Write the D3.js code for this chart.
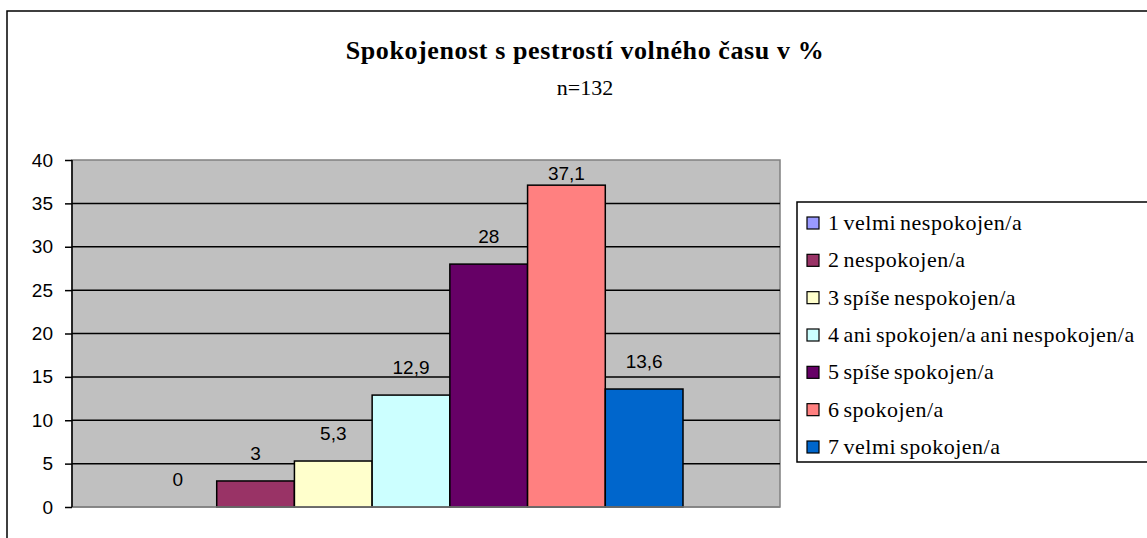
<!DOCTYPE html>
<html lang="cs">
<head>
    <meta charset="UTF-8">
    <title>Spokojenost s pestrostí volného času</title>
    <script src="https://cdn.jsdelivr.net/npm/d3@7"></script>
    <style>
        body, html {
            margin: 0;
            padding: 0;
            height: 100%;
            overflow: hidden;
            background: #fff;
        }
        svg {
            display: block;
        }
    </style>
</head>
<body>
    <svg id="mainsvg"></svg>
    <script>
        // data
        const categories = [
            '1 velmi nespokojen/a',
            '2 nespokojen/a',
            '3 spíše nespokojen/a',
            '4 ani spokojen/a ani nespokojen/a',
            '5 spíše spokojen/a',
            '6 spokojen/a',
            '7 velmi spokojen/a'
        ];
        const values = [0, 3, 5.3, 12.9, 28, 37.1, 13.6];
        const valueLabels = ['0', '3', '5,3', '12,9', '28', '37,1', '13,6'];
        const colors = ['#9999FF', '#993366', '#FFFFCC', '#CCFFFF', '#660066', '#FF8080', '#0066CC'];
        const yTicks = [0, 5, 10, 15, 20, 25, 30, 35, 40];

        const width = 1147;
        const height = 538;
        const svg = d3.select('svg').attr('width', width).attr('height', height);

        const serif = '"Liberation Serif", "Times New Roman", serif';
        const sans = '"Liberation Sans", Arial, sans-serif';

        // outer chart frame: left and top edge visible, the rest runs off the page
        svg.append('path')
            .attr('d', `M7,${height}V11H${width}`)
            .attr('fill', 'none')
            .attr('stroke', '#000')
            .attr('stroke-width', 1.5);

        // title
        svg.append('text')
            .attr('x', 585).attr('y', 59)
            .attr('text-anchor', 'middle')
            .attr('font-family', serif)
            .attr('font-weight', 'bold')
            .attr('font-size', '26px')
            .attr('letter-spacing', '0.6px')
            .text('Spokojenost s pestrostí volného času v %');

        svg.append('text')
            .attr('x', 585).attr('y', 95)
            .attr('text-anchor', 'middle')
            .attr('font-family', serif)
            .attr('font-size', '22px')
            .text('n=132');

        const plot = { left: 72, top: 160, right: 780, bottom: 507 };
        const innerWidth = plot.right - plot.left;
        const innerHeight = plot.bottom - plot.top;

        const g = svg.append('g')
            .attr('transform', `translate(${plot.left}, ${plot.top})`);

        const yScale = d3.scaleLinear().domain([0, 40]).range([innerHeight, 0]);
        const xScale = d3.scaleBand().domain(categories).range([67, 611]).paddingInner(0);

        // plot background
        g.append('rect')
            .attr('width', innerWidth).attr('height', innerHeight)
            .attr('fill', '#C0C0C0')
            .attr('stroke', '#808080')
            .attr('stroke-width', 1.5);

        // gridlines
        g.selectAll('.grid').data(yTicks.filter(d => d > 0 && d < 40)).enter().append('line')
            .attr('class', 'grid')
            .attr('x1', 0).attr('x2', innerWidth)
            .attr('y1', d => yScale(d)).attr('y2', d => yScale(d))
            .attr('stroke', '#000')
            .attr('stroke-width', 1.5);

        // bars
        g.selectAll('.bar').data(values).enter().append('rect')
            .attr('class', 'bar')
            .attr('x', (d, i) => xScale(categories[i]))
            .attr('y', d => yScale(d))
            .attr('width', xScale.bandwidth())
            .attr('height', d => innerHeight - yScale(d))
            .attr('fill', (d, i) => colors[i])
            .attr('stroke', '#000')
            .attr('stroke-width', d => d > 0 ? 1.5 : 0);

        // value labels (kept inside the plot when the bar is tall)
        g.selectAll('.vlabel').data(values).enter().append('text')
            .attr('class', 'vlabel')
            .attr('x', (d, i) => xScale(categories[i]) + xScale.bandwidth() / 2)
            .attr('y', d => Math.max(yScale(d) - 21, 20))
            .attr('text-anchor', 'middle')
            .attr('font-family', sans)
            .attr('font-size', '19px')
            .attr('fill', '#000')
            .text((d, i) => valueLabels[i]);

        // x axis line (gray, bottom of plot)
        g.append('line')
            .attr('x1', 0).attr('x2', innerWidth)
            .attr('y1', innerHeight).attr('y2', innerHeight)
            .attr('stroke', '#808080')
            .attr('stroke-width', 1.5);

        // y axis
        const yAxis = d3.axisLeft(yScale).tickValues(yTicks).tickSize(7).tickPadding(12);
        const yAxisGroup = g.append('g').call(yAxis);
        yAxisGroup.select('.domain')
            .attr('d', `M0,0V${innerHeight}`)
            .attr('stroke', '#000')
            .attr('stroke-width', 1.5);
        yAxisGroup.selectAll('.tick line').attr('stroke', '#000').attr('stroke-width', 1.5);
        yAxisGroup.selectAll('.tick text')
            .attr('font-family', sans)
            .attr('font-size', '19px')
            .attr('fill', '#000');

        // legend: box runs on past the right edge of the page
        const legend = svg.append('g').attr('transform', 'translate(797, 202)');
        legend.append('path')
            .attr('d', `M${width - 797},0H0V260H${width - 797}`)
            .attr('fill', '#fff')
            .attr('stroke', '#000')
            .attr('stroke-width', 1.5);

        const legendY = d3.scalePoint().domain(categories).range([21, 245]);
        const items = legend.selectAll('.item').data(categories).enter().append('g')
            .attr('class', 'item')
            .attr('transform', d => `translate(0, ${legendY(d)})`);
        items.append('rect')
            .attr('x', 10).attr('y', -6)
            .attr('width', 12).attr('height', 12)
            .attr('fill', (d, i) => colors[i])
            .attr('stroke', '#000')
            .attr('stroke-width', 1.2);
        items.append('text')
            .attr('x', 31).attr('y', 7)
            .attr('font-family', serif)
            .attr('font-size', '22px')
            .attr('letter-spacing', '0.5px')
            .attr('word-spacing', '-2px')
            .attr('fill', '#000')
            .text(d => d);
    </script>
</body>
</html>
